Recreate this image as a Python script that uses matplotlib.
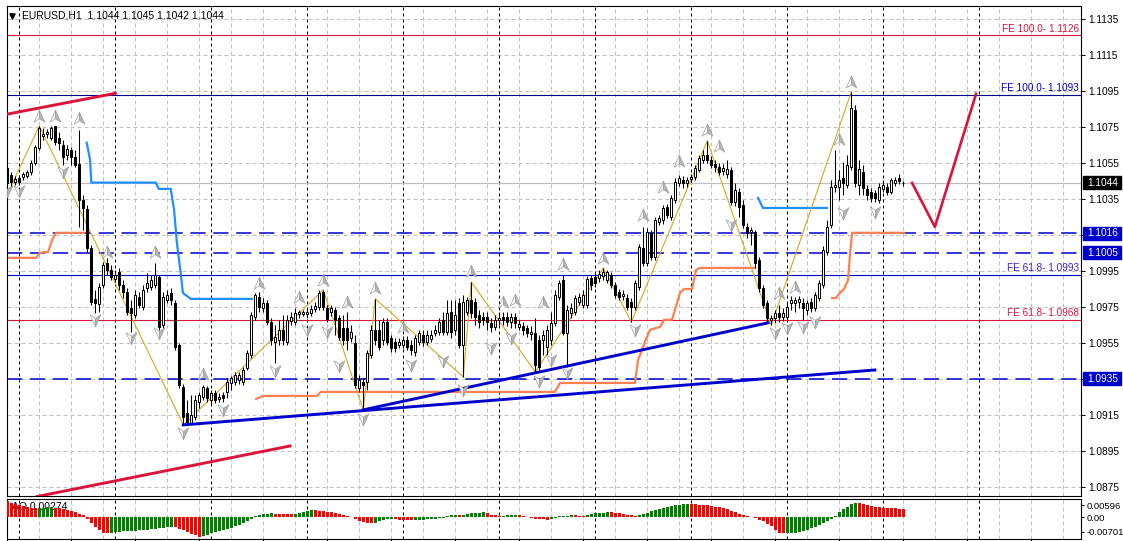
import matplotlib
matplotlib.use('Agg')
import matplotlib.pyplot as plt
import matplotlib.transforms as mtransforms
from matplotlib.path import Path
from matplotlib.patches import Rectangle

plt.rcParams['font.family'] = ['Liberation Sans', 'DejaVu Sans']

# ------------------------------------------------------------
# EURUSD H1 candles (bar index 0..224)
# ------------------------------------------------------------
opens = [
    1.10523, 1.10484, 1.10445, 1.10467, 1.10473, 1.10478, 1.10500, 1.10550, 1.10634, 1.10700,
    1.10712, 1.10689, 1.10756, 1.10689, 1.10650, 1.10595, 1.10623, 1.10584, 1.10545, 1.10345,
    1.10295, 1.10078, 1.09795, 1.09767, 1.09873, 1.09995, 1.09956, 1.09906, 1.09945, 1.09873,
    1.09834, 1.09745, 1.09706, 1.09806, 1.09750, 1.09856, 1.09862, 1.09873, 1.09917, 1.09650,
    1.09789, 1.09828, 1.09773, 1.09539, 1.09306, 1.09162, 1.09106, 1.09139, 1.09223, 1.09250,
    1.09300, 1.09234, 1.09273, 1.09239, 1.09262, 1.09278, 1.09328, 1.09334, 1.09345, 1.09334,
    1.09412, 1.09484, 1.09695, 1.09806, 1.09745, 1.09773, 1.09667, 1.09556, 1.09567, 1.09623,
    1.09556, 1.09673, 1.09667, 1.09712, 1.09712, 1.09712, 1.09717, 1.09739, 1.09750, 1.09834,
    1.09745, 1.09723, 1.09734, 1.09689, 1.09634, 1.09634, 1.09578, 1.09550, 1.09300, 1.09334,
    1.09334, 1.09484, 1.09623, 1.09623, 1.09567, 1.09667, 1.09578, 1.09556, 1.09539, 1.09539,
    1.09567, 1.09539, 1.09500, 1.09556, 1.09595, 1.09556, 1.09573, 1.09606, 1.09612, 1.09678,
    1.09612, 1.09723, 1.09623, 1.09773, 1.09539, 1.09723, 1.09789, 1.09778, 1.09706, 1.09695,
    1.09695, 1.09662, 1.09639, 1.09678, 1.09695, 1.09695, 1.09667, 1.09695, 1.09639, 1.09645,
    1.09634, 1.09600, 1.09606, 1.09567, 1.09567, 1.09528, 1.09567, 1.09662, 1.09806, 1.09900,
    1.09606, 1.09717, 1.09723, 1.09778, 1.09762, 1.09762, 1.09912, 1.09917, 1.09912, 1.09923,
    1.09900, 1.09928, 1.09873, 1.09834, 1.09812, 1.09800, 1.09778, 1.09750, 1.09862, 1.10078,
    1.09995, 1.10162, 1.10028, 1.10223, 1.10234, 1.10306, 1.10250, 1.10345, 1.10439, 1.10456,
    1.10439, 1.10462, 1.10473, 1.10512, 1.10567, 1.10595, 1.10567, 1.10545, 1.10528, 1.10506,
    1.10489, 1.10512, 1.10334, 1.10389, 1.10317, 1.10195, 1.10167, 1.10167, 1.10012, 1.09856,
    1.09773, 1.09678, 1.09689, 1.09717, 1.09695, 1.09695, 1.09773, 1.09773, 1.09778, 1.09773,
    1.09734, 1.09778, 1.09745, 1.09800, 1.09873, 1.10056, 1.10206, 1.10417, 1.10417, 1.10467,
    1.10428, 1.10528, 1.10845, 1.10428, 1.10500, 1.10406, 1.10389, 1.10384, 1.10345, 1.10406,
    1.10417, 1.10389, 1.10439, 1.10467, 1.10440,
]
highs = [
    1.10539, 1.10500, 1.10478, 1.10484, 1.10500, 1.10512, 1.10567, 1.10650, 1.10756, 1.10745,
    1.10739, 1.10756, 1.10756, 1.10723, 1.10678, 1.10650, 1.10639, 1.10623, 1.10734, 1.10373,
    1.10317, 1.10095, 1.09845, 1.09884, 1.10000, 1.10023, 1.09984, 1.09956, 1.09967, 1.09900,
    1.09856, 1.09789, 1.09845, 1.09834, 1.09873, 1.09939, 1.09928, 1.09995, 1.09928, 1.09834,
    1.09845, 1.09856, 1.09789, 1.09550, 1.09323, 1.09234, 1.09262, 1.09262, 1.09278, 1.09317,
    1.09312, 1.09289, 1.09289, 1.09273, 1.09278, 1.09356, 1.09367, 1.09389, 1.09389, 1.09417,
    1.09512, 1.09723, 1.09828, 1.09834, 1.09800, 1.09789, 1.09689, 1.09650, 1.09678, 1.09706,
    1.09706, 1.09723, 1.09745, 1.09734, 1.09734, 1.09739, 1.09762, 1.09778, 1.09845, 1.09845,
    1.09762, 1.09762, 1.09750, 1.09706, 1.09706, 1.09723, 1.09650, 1.09595, 1.09373, 1.09356,
    1.09512, 1.09650, 1.09795, 1.09678, 1.09689, 1.09689, 1.09595, 1.09578, 1.09578, 1.09589,
    1.09589, 1.09567, 1.09595, 1.09623, 1.09623, 1.09623, 1.09623, 1.09650, 1.09689, 1.09723,
    1.09789, 1.09789, 1.09789, 1.09800, 1.09817, 1.09806, 1.09889, 1.09800, 1.09734, 1.09723,
    1.09723, 1.09689, 1.09706, 1.09723, 1.09723, 1.09723, 1.09717, 1.09717, 1.09678, 1.09667,
    1.09650, 1.09645, 1.09689, 1.09595, 1.09623, 1.09650, 1.09723, 1.09845, 1.09900, 1.09928,
    1.09762, 1.09773, 1.09817, 1.09828, 1.09845, 1.09923, 1.09928, 1.09945, 1.09956, 1.09967,
    1.09956, 1.09945, 1.09889, 1.09850, 1.09845, 1.09823, 1.09800, 1.09900, 1.10100, 1.10195,
    1.10189, 1.10178, 1.10250, 1.10262, 1.10317, 1.10323, 1.10373, 1.10467, 1.10484, 1.10478,
    1.10473, 1.10489, 1.10539, 1.10595, 1.10623, 1.10673, 1.10589, 1.10567, 1.10550, 1.10545,
    1.10567, 1.10528, 1.10439, 1.10412, 1.10345, 1.10217, 1.10195, 1.10178, 1.10028, 1.09873,
    1.09789, 1.09706, 1.09734, 1.09762, 1.09745, 1.09773, 1.09812, 1.09806, 1.09812, 1.09800,
    1.09789, 1.09800, 1.09834, 1.09900, 1.10089, 1.10234, 1.10456, 1.10623, 1.10512, 1.10556,
    1.10595, 1.10945, 1.10873, 1.10567, 1.10539, 1.10428, 1.10412, 1.10400, 1.10439, 1.10456,
    1.10439, 1.10467, 1.10473, 1.10489, 1.10450,
]
lows = [
    1.10423, 1.10412, 1.10428, 1.10428, 1.10456, 1.10467, 1.10484, 1.10539, 1.10623, 1.10678,
    1.10689, 1.10678, 1.10650, 1.10623, 1.10539, 1.10567, 1.10539, 1.10528, 1.10195, 1.10178,
    1.10056, 1.09762, 1.09717, 1.09723, 1.09856, 1.09928, 1.09900, 1.09889, 1.09845, 1.09800,
    1.09706, 1.09612, 1.09689, 1.09745, 1.09734, 1.09834, 1.09845, 1.09856, 1.09623, 1.09634,
    1.09773, 1.09762, 1.09512, 1.09300, 1.09095, 1.09106, 1.09100, 1.09123, 1.09189, 1.09234,
    1.09223, 1.09212, 1.09217, 1.09223, 1.09223, 1.09245, 1.09289, 1.09317, 1.09323, 1.09317,
    1.09400, 1.09467, 1.09678, 1.09723, 1.09723, 1.09650, 1.09539, 1.09439, 1.09539, 1.09539,
    1.09539, 1.09650, 1.09650, 1.09689, 1.09700, 1.09689, 1.09700, 1.09723, 1.09734, 1.09734,
    1.09667, 1.09700, 1.09595, 1.09567, 1.09539, 1.09512, 1.09556, 1.09300, 1.09278, 1.09178,
    1.09289, 1.09467, 1.09539, 1.09512, 1.09539, 1.09539, 1.09500, 1.09500, 1.09523, 1.09523,
    1.09512, 1.09484, 1.09478, 1.09539, 1.09534, 1.09539, 1.09556, 1.09589, 1.09595, 1.09595,
    1.09595, 1.09578, 1.09595, 1.09523, 1.09362, 1.09706, 1.09689, 1.09650, 1.09634, 1.09650,
    1.09623, 1.09612, 1.09623, 1.09650, 1.09650, 1.09645, 1.09634, 1.09634, 1.09623, 1.09595,
    1.09584, 1.09567, 1.09389, 1.09400, 1.09484, 1.09484, 1.09539, 1.09645, 1.09789, 1.09595,
    1.09417, 1.09689, 1.09706, 1.09762, 1.09745, 1.09745, 1.09845, 1.09862, 1.09889, 1.09900,
    1.09884, 1.09856, 1.09800, 1.09789, 1.09789, 1.09734, 1.09667, 1.09734, 1.09845, 1.09978,
    1.09978, 1.10012, 1.10012, 1.10206, 1.10212, 1.10245, 1.10234, 1.10328, 1.10423, 1.10412,
    1.10417, 1.10445, 1.10456, 1.10500, 1.10550, 1.10550, 1.10523, 1.10500, 1.10484, 1.10484,
    1.10467, 1.10317, 1.10312, 1.10250, 1.10189, 1.10134, 1.10095, 1.09967, 1.09834, 1.09745,
    1.09667, 1.09650, 1.09662, 1.09667, 1.09673, 1.09678, 1.09734, 1.09723, 1.09745, 1.09678,
    1.09706, 1.09723, 1.09728, 1.09784, 1.09856, 1.10039, 1.10189, 1.10389, 1.10345, 1.10373,
    1.10412, 1.10512, 1.10417, 1.10373, 1.10373, 1.10345, 1.10334, 1.10334, 1.10328, 1.10389,
    1.10373, 1.10378, 1.10423, 1.10434, 1.10420,
]
closes = [
    1.10439, 1.10445, 1.10462, 1.10445, 1.10489, 1.10500, 1.10550, 1.10639, 1.10745, 1.10712,
    1.10723, 1.10745, 1.10667, 1.10662, 1.10584, 1.10628, 1.10584, 1.10539, 1.10345, 1.10300,
    1.10078, 1.09778, 1.09773, 1.09862, 1.09984, 1.09956, 1.09917, 1.09928, 1.09873, 1.09834,
    1.09723, 1.09717, 1.09817, 1.09762, 1.09845, 1.09884, 1.09900, 1.09928, 1.09639, 1.09806,
    1.09817, 1.09789, 1.09528, 1.09317, 1.09139, 1.09112, 1.09150, 1.09234, 1.09262, 1.09306,
    1.09245, 1.09273, 1.09234, 1.09250, 1.09245, 1.09334, 1.09356, 1.09373, 1.09373, 1.09400,
    1.09495, 1.09706, 1.09817, 1.09750, 1.09773, 1.09667, 1.09567, 1.09584, 1.09623, 1.09567,
    1.09678, 1.09695, 1.09717, 1.09723, 1.09723, 1.09723, 1.09739, 1.09756, 1.09828, 1.09750,
    1.09684, 1.09745, 1.09678, 1.09584, 1.09567, 1.09567, 1.09612, 1.09317, 1.09345, 1.09317,
    1.09495, 1.09623, 1.09567, 1.09528, 1.09667, 1.09556, 1.09523, 1.09523, 1.09556, 1.09567,
    1.09528, 1.09512, 1.09578, 1.09606, 1.09556, 1.09595, 1.09595, 1.09623, 1.09667, 1.09612,
    1.09717, 1.09612, 1.09706, 1.09539, 1.09778, 1.09789, 1.09717, 1.09695, 1.09667, 1.09678,
    1.09667, 1.09639, 1.09678, 1.09689, 1.09678, 1.09667, 1.09695, 1.09662, 1.09656, 1.09623,
    1.09606, 1.09612, 1.09428, 1.09417, 1.09595, 1.09623, 1.09662, 1.09817, 1.09884, 1.09606,
    1.09734, 1.09745, 1.09800, 1.09806, 1.09817, 1.09906, 1.09873, 1.09884, 1.09934, 1.09945,
    1.09945, 1.09873, 1.09817, 1.09806, 1.09823, 1.09750, 1.09750, 1.09884, 1.10084, 1.09995,
    1.10167, 1.10028, 1.10234, 1.10245, 1.10300, 1.10262, 1.10356, 1.10445, 1.10467, 1.10439,
    1.10456, 1.10473, 1.10523, 1.10578, 1.10595, 1.10567, 1.10539, 1.10528, 1.10500, 1.10523,
    1.10517, 1.10334, 1.10400, 1.10306, 1.10206, 1.10162, 1.10178, 1.09995, 1.09856, 1.09762,
    1.09689, 1.09689, 1.09717, 1.09695, 1.09717, 1.09750, 1.09789, 1.09789, 1.09795, 1.09745,
    1.09773, 1.09745, 1.09817, 1.09884, 1.10067, 1.10195, 1.10417, 1.10428, 1.10456, 1.10439,
    1.10539, 1.10856, 1.10439, 1.10517, 1.10412, 1.10373, 1.10356, 1.10356, 1.10417, 1.10428,
    1.10389, 1.10456, 1.10456, 1.10450, 1.10440,
]

# Awesome Oscillator values per bar
ao_values = [
    0.0081, 0.0071, 0.0065, 0.0060, 0.0056, 0.0052, 0.0047, 0.0043, 0.0045, 0.0047,
    0.0048, 0.0049, 0.0046, 0.0043, 0.0040, 0.0036, 0.0031, 0.0025, 0.0017, 0.0009,
    -0.0008, -0.0026, -0.0045, -0.0063, -0.0074, -0.0077, -0.0076, -0.0073, -0.0070, -0.0068,
    -0.0067, -0.0066, -0.0065, -0.0063, -0.0062, -0.0061, -0.0058, -0.0055, -0.0052, -0.0050,
    -0.0047, -0.0045, -0.0048, -0.0055, -0.0063, -0.0072, -0.0080, -0.0088, -0.0094, -0.0090,
    -0.0084, -0.0078, -0.0073, -0.0068, -0.0062, -0.0056, -0.0050, -0.0043, -0.0036, -0.0028,
    -0.0020, -0.0010, 0.0004, 0.0010, 0.0015, 0.0018, 0.0019, 0.0018, 0.0017, 0.0016,
    0.0015, 0.0014, 0.0018, 0.0022, 0.0026, 0.0030, 0.0034, 0.0033, 0.0031, 0.0029,
    0.0027, 0.0024, 0.0020, 0.0016, 0.0011, 0.0006, 0.0002, -0.0010, -0.0016, -0.0022,
    -0.0028, -0.0030, -0.0026, -0.0018, -0.0012, -0.0010, -0.0008, -0.0010, -0.0012, -0.0013,
    -0.0014, -0.0015, -0.0014, -0.0013, -0.0012, -0.0010, -0.0008, -0.0006, -0.0004, -0.0002,
    0.0008, 0.0010, 0.0011, 0.0009, 0.0012, 0.0015, 0.0019, 0.0021, 0.0022, 0.0024,
    0.0022, 0.0012, 0.0010, 0.0007, 0.0008, 0.0010, 0.0011, 0.0012, 0.0010, 0.0005,
    0.0002, -0.0002, -0.0006, -0.0009, -0.0010, -0.0011, -0.0008, -0.0003, 0.0006, 0.0007,
    0.0008, 0.0010, 0.0009, 0.0008, 0.0007, 0.0011, 0.0015, 0.0019, 0.0021, 0.0023,
    0.0025, 0.0024, 0.0022, 0.0019, 0.0016, 0.0013, 0.0012, 0.0008, 0.0010, 0.0016,
    0.0022, 0.0029, 0.0035, 0.0040, 0.0044, 0.0050, 0.0056, 0.0058, 0.0060, 0.0063,
    0.0065, 0.0064, 0.0063, 0.0062, 0.0060, 0.0058, 0.0055, 0.0052, 0.0048, 0.0044,
    0.0039, 0.0032, 0.0024, 0.0016, 0.0009, 0.0004, 0.0001, -0.0004, -0.0011, -0.0020,
    -0.0031, -0.0044, -0.0063, -0.0076, -0.0078, -0.0077, -0.0076, -0.0074, -0.0070, -0.0065,
    -0.0060, -0.0054, -0.0046, -0.0038, -0.0028, -0.0018, -0.0009, 0.0008, 0.0028, 0.0039,
    0.0052, 0.0063, 0.0068, 0.0067, 0.0065, 0.0060, 0.0055, 0.0052, 0.0049, 0.0047,
    0.0045, 0.0044, 0.0043, 0.0042, 0.0039,
]

# Zigzag pivots (bar, price)
zz_bars = [-0.3, 8, 44, 79, 89, 92, 114, 116, 132, 149, 156, 175, 191, 211]
zz_prices = [1.10362, 1.10756, 1.09095, 1.09845, 1.09178, 1.09795, 1.09362, 1.09889,
             1.09389, 1.09967, 1.09667, 1.10673, 1.09650, 1.10945]

# Fractal arrows (bar, price)
frac_up_bars = [8, 12, 18, 25, 37, 49, 63, 73, 79, 85, 92, 99, 116, 124, 127, 134, 139,
                149, 159, 164, 168, 175, 178, 193, 197, 208, 211]
frac_up_prices = [1.10812, 1.10812, 1.10800, 1.10056, 1.10056, 1.09378, 1.09884, 1.09806,
                  1.09900, 1.09778, 1.09856, 1.09639, 1.09950, 1.09778, 1.09789, 1.09778,
                  1.09989, 1.10023, 1.10262, 1.10417, 1.10562, 1.10734, 1.10645, 1.09828,
                  1.09862, 1.10684, 1.11000]
frac_dn_bars = [0, 3, 14, 22, 31, 38, 44, 54, 67, 75, 80, 83, 89, 101, 109, 114, 121, 126,
                133, 136, 140, 157, 181, 192, 195, 199, 202, 209, 217]
frac_dn_prices = [1.10395, 1.10395, 1.10500, 1.09678, 1.09578, 1.09606, 1.09051, 1.09178,
                  1.09395, 1.09623, 1.09612, 1.09423, 1.09128, 1.09428, 1.09450, 1.09289,
                  1.09523, 1.09578, 1.09340, 1.09456, 1.09384, 1.09623, 1.10206, 1.09606,
                  1.09634, 1.09639, 1.09667, 1.10273, 1.10278]

# Trailing step lines
trail_a_bars = [-0.3, 7.2, 8.2, 10.2, 11.2, 12.2, 19.2]
trail_a_prices = [1.10023, 1.10023, 1.10051, 1.10056, 1.10123, 1.10162, 1.10162]
trail_b_bars = [62.2, 63.9, 77.4, 78.4, 136.9, 138.2, 156.9, 157.7, 159.4, 160.7, 163.2,
                164.2, 166.2, 168.2, 169.2, 171.2, 172.2, 173.2, 186.9]
trail_b_prices = [1.09239, 1.09256, 1.09256, 1.09278, 1.09278, 1.09328, 1.09328, 1.09456,
                  1.09556, 1.09623, 1.09640, 1.09678, 1.09680, 1.09830, 1.09850, 1.09850,
                  1.09956, 1.09967, 1.09967]
trail_c_bars = [206.2, 207.2, 208.2, 209.2, 210.2, 210.7, 211.2, 224.2]
trail_c_prices = [1.09800, 1.09800, 1.09830, 1.09850, 1.09900, 1.10050, 1.10162, 1.10162]
stop_a_bars = [19.85, 20.7, 21.0, 37.1, 37.9, 40.85, 41.7, 42.4, 43.35, 43.9, 45.85, 61.2]
stop_a_prices = [1.10663, 1.10567, 1.10441, 1.10441, 1.10406, 1.10406, 1.10289, 1.10106,
                 1.09939, 1.09828, 1.09795, 1.09795]
stop_b_bars = [187.7, 188.9, 204.9]
stop_b_prices = [1.10356, 1.10300, 1.10300]

# Trend lines ((bar, price), (bar, price))
blue_trends = [((44, 1.09095), (216.9, 1.09400)), ((88.9, 1.09178), (190.2, 1.09662))]
red_trends = [((-0.3, 1.10820), (27, 1.10937)), ((7.4, 1.08697), (70.7, 1.08978))]
proj_bars = [226.2, 231.9, 242.2]
proj_prices = [1.10439, 1.10195, 1.10934]

# Levels
fe_levels = [1.1126, 1.1093, 1.0993, 1.0968]
fe_labels = ['FE 100.0- 1.1126', 'FE 100.0- 1.1093', 'FE 61.8- 1.0993', 'FE 61.8- 1.0968']
fe_line_colors = ['#DC143C', '#00008B', '#0000CD', '#DC143C']
fe_text_colors = ['#DC143C', '#0000CD', '#3A1FD0', '#DC143C']
dash_levels = [1.1016, 1.1005, 1.0935]
current_price = 1.1044
price_ticks = [1.0875, 1.0895, 1.0915, 1.0935, 1.0955, 1.0975, 1.0995, 1.1015,
               1.1035, 1.1055, 1.1075, 1.1095, 1.1115, 1.1135]
ao_ticks = [0.00596, 0.0, -0.00701]
ao_tick_labels = ['0.00596', '0.00', '-0.00701']

# ------------------------------------------------------------
W, H = 1123, 541
fig = plt.figure(figsize=(W / 100, H / 100), dpi=100)


def rect(x0, y0, x1, y1):
    return [x0 / W, 1 - y1 / H, (x1 - x0) / W, (y1 - y0) / H]


ax = fig.add_axes(rect(6.5, 6, 1081, 496))
ax_ao = fig.add_axes(rect(6.5, 499, 1081, 539))
XMIN, XMAX = -0.2, 268.43
PX = 1 / 18000.0  # price per pixel
ax.set_xlim(XMIN, XMAX)
ax.set_ylim(1.08700, 1.11422)
ax_ao.set_xlim(XMIN, XMAX)
ax_ao.set_ylim(-0.01053, 0.00888)

for a in (ax, ax_ao):
    for s in a.spines.values():
        s.set_linewidth(0.8)
        s.set_color('black')

# grid + day separators
for p in price_ticks:
    ax.axhline(p, color='#c0c0c0', lw=0.72, ls=(0, (4, 3)), zorder=0.5)
for a in (ax, ax_ao):
    for b in range(0, 268, 8):
        a.axvline(b, color='#c0c0c0', lw=0.72, ls=(0, (4, 3)), zorder=0.5)
    for b in range(3, 250, 24):
        a.axvline(b, color='black', lw=0.72, ls=(0, (3, 3)), zorder=0.6)

# horizontal levels
ax.axhline(current_price, color='#c0c0c0', lw=0.9, zorder=1)
for lvl, lab, lc, tc in zip(fe_levels, fe_labels, fe_line_colors, fe_text_colors):
    ax.axhline(lvl, color=lc, lw=0.8, zorder=1)
    ax.text(0.998, lvl + 1.2 * PX, lab, transform=mtransforms.blended_transform_factory(
        ax.transAxes, ax.transData), ha='right', va='bottom', color=tc, fontsize=7.2)
for lvl in dash_levels:
    ax.axhline(lvl, color='#0000CD', lw=1.1, ls=(0, (10, 5)), zorder=1)

# indicator step lines + zigzag
for bx, by in ((trail_a_bars, trail_a_prices), (trail_b_bars, trail_b_prices),
               (trail_c_bars, trail_c_prices)):
    ax.plot(bx, by, color='#FF7F50', lw=1.6, zorder=2, solid_joinstyle='miter')
for bx, by in ((stop_a_bars, stop_a_prices), (stop_b_bars, stop_b_prices)):
    ax.plot(bx, by, color='#1E90FF', lw=1.6, zorder=2, solid_joinstyle='miter')
ax.plot(zz_bars, zz_prices, color='#DAA520', lw=0.8, zorder=2.5)

# candles
xs = list(range(len(closes)))
ax.vlines(xs, lows, highs, color='black', lw=0.75, zorder=3)
bottoms = [min(o, c) for o, c in zip(opens, closes)]
heights = [abs(c - o) for o, c in zip(opens, closes)]
faces = ['white' if c >= o else 'black' for o, c in zip(opens, closes)]
ax.bar(xs, heights, bottom=bottoms, width=0.5, color=faces, edgecolor='black',
       linewidth=0.72, zorder=3.2)

# trend lines
for (b0, p0), (b1, p1) in blue_trends:
    ax.plot([b0, b1], [p0, p1], color='#0000CD', lw=2.1, zorder=4)
for (b0, p0), (b1, p1) in red_trends:
    ax.plot([b0, b1], [p0, p1], color='#DC143C', lw=2.1, zorder=4)
ax.plot(proj_bars, proj_prices, color='#DC143C', lw=1.9, zorder=4)

# fractal arrows (two-tone arrowheads)
codes = [Path.MOVETO, Path.LINETO, Path.LINETO, Path.CLOSEPOLY]
up_l = Path([(0, 1), (-0.85, -0.9), (0, -0.35), (0, 1)], codes)
up_r = Path([(0, 1), (0, -0.35), (0.85, -0.9), (0, 1)], codes)
dn_l = Path([(0, -1), (-0.85, 0.9), (0, 0.35), (0, -1)], codes)
dn_r = Path([(0, -1), (0, 0.35), (0.85, 0.9), (0, -1)], codes)
for m, fc in ((up_l, '#f6f6f6'), (up_r, '#b4b4b4')):
    ax.scatter(frac_up_bars, frac_up_prices, marker=m, s=85, facecolor=fc,
               edgecolor='#9a9a9a', linewidths=0.45, zorder=5)
for m, fc in ((dn_l, '#f6f6f6'), (dn_r, '#b4b4b4')):
    ax.scatter(frac_dn_bars, frac_dn_prices, marker=m, s=85, facecolor=fc,
               edgecolor='#9a9a9a', linewidths=0.45, zorder=5)

# price axis
ax.yaxis.tick_right()
ax.set_yticks(price_ticks)
ax.set_yticklabels(['' if p in (1.1015, 1.0935) else f'{p:.4f}' for p in price_ticks])
ax.tick_params(axis='y', direction='out', length=3, width=0.7, pad=2.5, labelsize=7.3)
ax.set_xticks([])

trans = mtransforms.blended_transform_factory(ax.transAxes, ax.transData)
box_w = 38 / 1074.5
for lvl, fc in [(current_price, 'black')] + [(d, '#0000CD') for d in dash_levels]:
    ax.add_patch(Rectangle((1.0019, lvl - 6.5 * PX), box_w, 13 * PX, transform=trans,
                           facecolor=fc, edgecolor=fc, clip_on=False, zorder=10))
    ax.text(1.0055, lvl, f'{lvl:.4f}', transform=trans, ha='left', va='center',
            color='white', fontsize=7.3, clip_on=False, zorder=11)

# title
ax.text(0.0144, 0.9796, 'EURUSD,H1  1.1044 1.1045 1.1042 1.1044', transform=ax.transAxes,
        ha='left', va='center', fontsize=7.5, color='black')
ax.scatter([0.0052], [0.9796], marker='v', s=14, color='black', transform=ax.transAxes,
           clip_on=False, zorder=6)

# Awesome oscillator panel
ao_colors = ['#FF0000'] + ['#008000' if v > p else '#FF0000'
                           for p, v in zip(ao_values[:-1], ao_values[1:])]
ax_ao.text(0.005, 0.8, 'AO 0.00274', transform=ax_ao.transAxes, ha='left', va='center',
           fontsize=7.5, color='black', zorder=1)
ax_ao.bar(xs, ao_values, width=0.72, color=ao_colors, linewidth=0, zorder=3)
ax_ao.yaxis.tick_right()
ax_ao.set_yticks(ao_ticks)
ax_ao.set_yticklabels(ao_tick_labels)
ax_ao.tick_params(axis='y', direction='out', length=2.5, width=0.7, pad=1.5, labelsize=6.8)
ax_ao.set_xticks(list(range(0, 268, 16)))
ax_ao.tick_params(axis='x', direction='out', length=2.5, width=0.7, labelbottom=False)

fig.savefig('out.png', dpi=100)
